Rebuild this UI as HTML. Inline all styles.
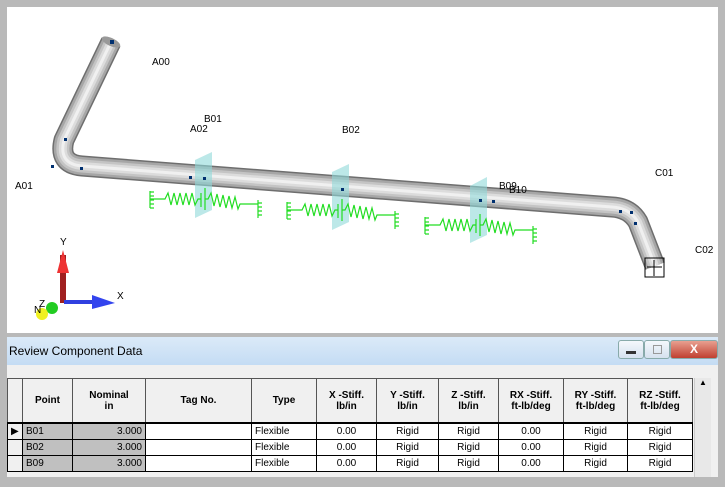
<!DOCTYPE html>
<html><head><style>
body{margin:0;width:725px;height:487px;overflow:hidden;background:#fff;font-family:"Liberation Sans",sans-serif;position:relative}
.frame{position:absolute;left:0;top:0;width:725px;height:487px;background:#b9b9b9}
.view{position:absolute;left:7px;top:7px;width:711px;height:326px;background:#fff}
.title{position:absolute;left:7px;top:337px;width:711px;height:28px;background:linear-gradient(#dbeaf8,#c4dcf4);font-size:12px;line-height:28px;padding-left:2px;box-sizing:border-box}
.gray{position:absolute;left:7px;top:365px;width:711px;height:112px;background:#f0f0f0}
table{position:absolute;left:7px;top:378px;border-collapse:collapse;font-size:10px;table-layout:fixed}
td,th{border:1px solid #000;padding:0 3px;height:15px}
th{height:43px;background:#f0f0f0;font-weight:bold;text-align:center;border:1px solid #555;border-bottom:2px solid #000}
td{background:#fff}
td.g{background:#c0c0c0}
.c{text-align:center}.r{text-align:right}
.btn{position:absolute;top:340px;height:17px;border:1px solid #8aa;border-radius:3px;background:linear-gradient(#f4f8fc,#d5e1ee)}
</style></head><body>
<div class="frame"></div>
<div class="view"></div>
<svg style="position:absolute;left:0;top:0" width="725" height="335">
<g fill="none" stroke-linejoin="round">
<path d="M111,42 L64,140 Q58,164 82,166 L612,207 Q630,208 638,222 L655,266" stroke="#6e6e6e" stroke-width="21"/>
<path d="M111,42 L64,140 Q58,164 82,166 L612,207 Q630,208 638,222 L655,266" stroke="#a6a6a6" stroke-width="18"/>
<path d="M111,42 L64,140 Q58,164 82,166 L612,207 Q630,208 638,222 L655,266" stroke="#c4c4c4" stroke-width="13"/>
<path d="M111,42 L64,140 Q58,164 82,166 L612,207 Q630,208 638,222 L655,266" stroke="#dcdcdc" stroke-width="8"/>
<path d="M111,42 L64,140 Q58,164 82,166 L612,207 Q630,208 638,222 L655,266" stroke="#f0f0f0" stroke-width="3"/>
</g>
<ellipse cx="111" cy="42" rx="10" ry="4" fill="#999" transform="rotate(25 111 42)"/>
<g fill="#8fd8d8" opacity=".6">
<polygon points="195,160 212,152 212,210 195,218"/>
<polygon points="332,172 349,164 349,222 332,230"/>
<polygon points="470,186 487,177 487,235 470,243"/>
</g>
<g fill="#003070">
<rect x="110" y="40" width="4" height="4"/><rect x="64" y="138" width="3" height="3"/><rect x="51" y="165" width="3" height="3"/><rect x="80" y="167" width="3" height="3"/><rect x="189" y="176" width="3" height="3"/><rect x="203" y="177" width="3" height="3"/><rect x="341" y="188" width="3" height="3"/><rect x="479" y="199" width="3" height="3"/><rect x="492" y="200" width="3" height="3"/><rect x="619" y="210" width="3" height="3"/><rect x="630" y="211" width="3" height="3"/><rect x="634" y="222" width="3" height="3"/>
</g>
<g stroke="#000" fill="none"><rect x="645" y="258" width="19" height="19"/><path d="M654,260 V276 M647,267 H662"/></g>
<g stroke="#22dd22" fill="none" stroke-width="1.2">
<g id="sp">
<path d="M150,191 V208 M150,192 H154 M150,196 H154 M150,200 H154 M150,204 H154 M150,208 H154 M150,199 H165 L168,193 L171,205 L174,193 L177,205 L180,193 L183,205 L186,193 L189,205 L192,193 L195,205 L198,199 H201 M201,193 V207 M205,188 V210 M205,199 H208 L211,193 L214,206 L217,194 L220,207 L223,195 L226,208 L229,196 L232,208 L235,197 L238,209 L240,204 H258 M258,200 V218 M258,203 H262 M258,207 H262 M258,211 H262 M258,215 H262"/>
</g>
<use href="#sp" transform="translate(137,11)"/>
<use href="#sp" transform="translate(275,26)"/>
</g>
<g>
<rect x="60" y="255" width="6" height="48" fill="#a02020"/>
<polygon points="63,250 57,273 69,273" fill="#ee3333"/>
<rect x="64" y="300" width="40" height="4" fill="#3040e0"/>
<polygon points="92,295 92,309 115,303" fill="#3344ee"/>
<circle cx="52" cy="308" r="6" fill="#22cc22"/>
<circle cx="42" cy="314" r="6" fill="#f0f020"/>
</g>
<g font-size="10" font-family="Liberation Sans">
<text x="60" y="245">Y</text><text x="117" y="299">X</text><text x="39" y="307">Z</text><text x="34" y="313">N</text>
<text x="152" y="65">A00</text><text x="204" y="122">B01</text><text x="190" y="132">A02</text><text x="342" y="133">B02</text><text x="15" y="189">A01</text><text x="499" y="189">B09</text><text x="509" y="193">B10</text><text x="655" y="176">C01</text><text x="695" y="253">C02</text>
</g>
</svg>
<div class="title">Review Component Data</div>
<div class="btn" style="left:618px;width:24px"><div style="position:absolute;left:7px;top:10px;width:10px;height:3px;background:#333"></div></div>
<div class="btn" style="left:644px;width:24px"><div style="position:absolute;left:8px;top:4px;width:7px;height:7px;border:1px solid #999"></div></div>
<div class="btn" style="left:670px;width:46px;background:linear-gradient(#e8a090,#c04030);color:#fff;font-weight:bold;font-size:12px;text-align:center;line-height:17px">X</div>
<div class="gray"></div>
<table>
<colgroup><col style="width:15px"><col style="width:50px"><col style="width:73px"><col style="width:106px"><col style="width:65px"><col style="width:60px"><col style="width:62px"><col style="width:60px"><col style="width:65px"><col style="width:64px"><col style="width:65px"></colgroup>
<tr><th></th><th>Point</th><th>Nominal<br>in</th><th>Tag No.</th><th>Type</th><th>X -Stiff.<br>lb/in</th><th>Y -Stiff.<br>lb/in</th><th>Z -Stiff.<br>lb/in</th><th>RX -Stiff.<br>ft-lb/deg</th><th>RY -Stiff.<br>ft-lb/deg</th><th>RZ -Stiff.<br>ft-lb/deg</th></tr>
<tr><td style="background:#f0f0f0">▶</td><td class="g">B01</td><td class="g r">3.000</td><td></td><td>Flexible</td><td class="c">0.00</td><td class="c">Rigid</td><td class="c">Rigid</td><td class="c">0.00</td><td class="c">Rigid</td><td class="c">Rigid</td></tr>
<tr><td style="background:#f0f0f0"></td><td class="g">B02</td><td class="g r">3.000</td><td></td><td>Flexible</td><td class="c">0.00</td><td class="c">Rigid</td><td class="c">Rigid</td><td class="c">0.00</td><td class="c">Rigid</td><td class="c">Rigid</td></tr>
<tr><td style="background:#f0f0f0"></td><td class="g">B09</td><td class="g r">3.000</td><td></td><td>Flexible</td><td class="c">0.00</td><td class="c">Rigid</td><td class="c">Rigid</td><td class="c">0.00</td><td class="c">Rigid</td><td class="c">Rigid</td></tr>
</table>
<div style="position:absolute;left:694px;top:378px;width:16px;height:99px;background:#e8e8e8;border-left:1px solid #ccc;font-size:8px;text-align:center">▲</div>
</body></html>
